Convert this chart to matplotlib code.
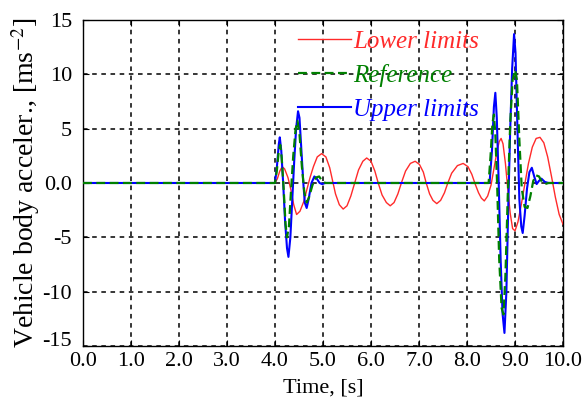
import matplotlib.pyplot as plt
import matplotlib.transforms as mtransforms
import numpy as np

# Lower limits (red)
t_lower = [0.0, 4.0, 4.05, 4.10, 4.15, 4.20, 4.27, 4.33, 4.39, 4.45, 4.52, 4.60, 4.67, 4.73,
           4.80, 4.88, 4.97, 5.06, 5.14, 5.20, 5.26, 5.34, 5.42, 5.50, 5.58, 5.66, 5.74,
           5.83, 5.91, 6.00, 6.08, 6.15, 6.23, 6.32, 6.40, 6.48, 6.56, 6.64, 6.72, 6.82,
           6.92, 7.01, 7.09, 7.15, 7.22, 7.29, 7.37, 7.45, 7.53, 7.60, 7.68, 7.80, 7.92,
           8.02, 8.10, 8.17, 8.24, 8.30, 8.36, 8.43, 8.50, 8.56, 8.62, 8.67, 8.71, 8.75,
           8.80, 8.85, 8.90, 8.95, 9.00, 9.06, 9.13, 9.20, 9.28, 9.36, 9.44, 9.52, 9.60,
           9.68, 9.76, 9.84, 9.92, 10.0]
a_lower = [0.0, 0.0, 0.4, 1.1, 1.5, 1.3, 0.5, -0.6, -2.0, -2.9, -2.6, -1.7, -0.5, 0.5,
           1.5, 2.4, 2.7, 2.4, 1.4, 0.2, -1.0, -2.0, -2.4, -2.1, -1.2, 0.0, 1.2,
           2.0, 2.3, 2.0, 1.1, 0.0, -1.1, -1.8, -2.1, -1.8, -1.0, 0.1, 1.1, 1.8,
           2.0, 1.7, 1.0, 0.0, -1.0, -1.6, -1.9, -1.6, -0.9, 0.0, 0.9, 1.6, 1.8,
           1.5, 0.8, -0.1, -0.9, -1.4, -1.65, -1.2, -0.2, 1.3, 2.8, 3.8, 4.1, 3.6,
           1.8, -0.6, -2.8, -4.2, -4.4, -3.6, -2.0, -0.2, 1.8, 3.3, 4.1, 4.2, 3.7,
           2.4, 0.6, -1.3, -2.9, -3.8]

# Reference (green)
t_ref = [0.0, 4.0, 4.04, 4.08, 4.11, 4.14, 4.18, 4.22, 4.25, 4.29, 4.33, 4.38, 4.43, 4.47,
         4.51, 4.56, 4.61, 4.66, 4.71, 4.78, 4.85, 4.92, 4.98, 5.05, 8.45, 8.49, 8.53,
         8.56, 8.59, 8.63, 8.67, 8.72, 8.76, 8.80, 8.85, 8.90, 8.95, 9.00, 9.04, 9.09,
         9.14, 9.20, 9.26, 9.32, 9.38, 9.44, 9.50, 9.56, 9.62, 9.70, 10.0]
a_ref = [0.0, 0.0, 1.2, 3.0, 3.5, 2.3, -0.5, -3.8, -5.0, -4.0, -1.0, 2.5, 5.0, 5.7,
         4.5, 1.5, -0.8, -1.8, -1.3, -0.2, 0.5, 0.6, 0.2, 0.0, 0.0, 2.5, 5.5,
         6.3, 4.5, -0.5, -7.0, -11.5, -12.1, -8.5, -1.0, 5.5, 9.5, 10.4, 9.5, 4.0,
         -0.5, -2.2, -2.3, -1.2, 0.2, 0.7, 0.6, 0.1, -0.1, 0.0, 0.0]

# Upper limits (blue)
t_upper = [0.0, 4.0, 4.04, 4.08, 4.10, 4.13, 4.17, 4.21, 4.25, 4.28, 4.32, 4.36, 4.40, 4.44,
           4.48, 4.51, 4.55, 4.59, 4.62, 4.66, 4.70, 4.76, 4.82, 4.87, 4.93, 4.98, 5.05,
           8.47, 8.52, 8.56, 8.59, 8.62, 8.66, 8.70, 8.74, 8.78, 8.82, 8.86, 8.90, 8.94,
           8.98, 9.01, 9.05, 9.09, 9.13, 9.16, 9.20, 9.25, 9.30, 9.35, 9.40, 9.45, 9.50,
           9.55, 9.62, 9.70, 10.0]
a_upper = [0.0, 0.0, 1.5, 3.6, 4.2, 3.0, 0.0, -3.5, -6.0, -6.8, -5.0, -1.5, 2.0, 5.0,
           6.6, 6.0, 3.0, 0.0, -1.8, -2.3, -1.5, 0.0, 0.6, 0.4, 0.0, -0.1, 0.0,
           0.0, 3.0, 7.0, 8.3, 6.0, 0.0, -7.0, -12.0, -13.8, -10.0, -2.0, 5.0, 10.5,
           13.7, 12.0, 5.0, -1.5, -4.0, -4.6, -3.0, -0.5, 1.0, 1.4, 0.6, -0.1, 0.2,
           0.4, 0.1, 0.0, 0.0]

x_ticks = [0, 1, 2, 3, 4, 5, 6, 7, 8, 9, 10]
x_labels = ['0.0', '1.0', '2.0', '3.0', '4.0', '5.0', '6.0', '7.0', '8.0', '9.0', '10.0']
y_ticks = [-15, -10, -5, 0, 5, 10, 15]
y_labels = ['-15', '-10', '-5', '0.0', '5', '10', '15']

plt.rcParams['font.family'] = ['Liberation Serif', 'DejaVu Serif']
plt.rcParams['mathtext.fontset'] = 'stix'

fig = plt.figure(figsize=(5.86, 4.08), dpi=100)
ax = fig.add_axes([0.1416, 0.152, 0.8192, 0.799])

ax.plot(t_lower, a_lower, color='#ff2a2a', lw=1.0, label='Lower limits', zorder=3)
ax.plot(t_ref, a_ref, color='#008000', lw=1.6, ls=(0, (4, 2)), label='Reference', zorder=5)
ax.plot(t_upper, a_upper, color='#0000ff', lw=1.5, label='Upper limits', zorder=4)

ax.set_xlim(0, 10)
ax.set_ylim(-15, 15)
ax.set_xticks(x_ticks)
ax.set_xticklabels(x_labels)
ax.set_yticks(y_ticks)
ax.set_yticklabels(y_labels)
ax.tick_params(direction='in', length=4, labelsize=16, top=True, right=True)
ax.tick_params(axis='x', pad=4)
ax.tick_params(axis='y', pad=8)

# lift the bottom y label a few pixels so it clears the first x label
lbl = ax.get_yticklabels()[0]
lbl.set_transform(lbl.get_transform() +
                  mtransforms.ScaledTranslation(0, 5 / 72, fig.dpi_scale_trans))

ax.grid(True, color='black', ls=(0, (3, 3)), lw=1.1, zorder=0)
for s in ax.spines.values():
    s.set_linewidth(1.0)

ax.set_xlabel('Time, [s]', fontsize=16, labelpad=6)
ax.set_ylabel('Vehicle body acceler., [ms$^{-2}$]', fontsize=20, labelpad=0)

leg = ax.legend(loc='upper left', bbox_to_anchor=(0.443, 0.975), frameon=False,
                prop={'family': 'Liberation Serif', 'style': 'italic', 'size': 18},
                handlelength=2.1, handletextpad=0.1, labelspacing=0.44,
                borderpad=0.1, borderaxespad=0, labelcolor='linecolor')

fig.savefig('out.png', dpi=100)
